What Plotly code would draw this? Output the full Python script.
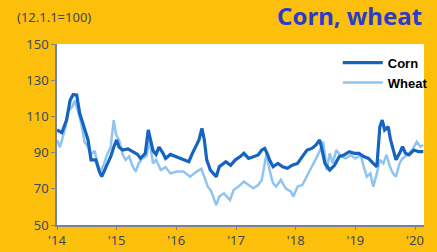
import plotly.graph_objects as go
import pandas as pd

corn_t = [2014.0, 2014.08, 2014.16, 2014.22, 2014.27, 2014.33, 2014.38, 2014.43, 2014.52, 2014.57,
          2014.65, 2014.71, 2014.75, 2014.82, 2014.9, 2014.95, 2015.0, 2015.04, 2015.1, 2015.19,
          2015.24, 2015.3, 2015.35, 2015.4, 2015.48, 2015.53, 2015.57, 2015.61, 2015.66, 2015.71,
          2015.77, 2015.82, 2015.9, 2015.98, 2016.05, 2016.13, 2016.21, 2016.27, 2016.32, 2016.38,
          2016.43, 2016.47, 2016.51, 2016.57, 2016.62, 2016.67, 2016.72, 2016.78, 2016.83, 2016.91,
          2016.99, 2017.07, 2017.13, 2017.21, 2017.29, 2017.37, 2017.43, 2017.48, 2017.53, 2017.56,
          2017.62, 2017.7, 2017.78, 2017.86, 2017.94, 2018.03, 2018.11, 2018.19, 2018.27, 2018.34,
          2018.4, 2018.43, 2018.49, 2018.57, 2018.65, 2018.73, 2018.81, 2018.9, 2018.98, 2019.06,
          2019.14, 2019.22, 2019.3, 2019.36, 2019.41, 2019.45, 2019.49, 2019.55, 2019.59, 2019.63,
          2019.68, 2019.74, 2019.79, 2019.84, 2019.9, 2019.98, 2020.06, 2020.14]
corn_v = [102.5, 101, 108, 119, 122, 121.8, 111.7, 106, 97, 86,
          86, 79.5, 76.7, 82, 87.7, 93, 97, 93, 91.4, 92,
          91, 89.6, 89, 86.8, 89.6, 102.5, 97, 91, 89, 93,
          90, 86.8, 89, 88, 86.8, 86, 85, 89.6, 93, 97,
          103.4, 97, 86, 80.4, 78.5, 76.7, 82.2, 84, 85, 83,
          86, 87.8, 89.6, 86.8, 87.8, 88.7, 91.4, 92.3, 88.7, 86,
          82.2, 84, 82.2, 81.3, 83, 84, 87.8, 91.4, 92.3, 94.2,
          97, 93.3, 84, 80.4, 83, 87.8, 88.7, 90.5, 89.6, 89.6,
          87.8, 86.8, 84, 82.2, 104.3, 108, 102.5, 104.3, 97, 91.4,
          86, 89.6, 93.3, 89.6, 88.7, 91.4, 90.5, 90.5]

wheat_t = [2014.0, 2014.05, 2014.14, 2014.19, 2014.25, 2014.3, 2014.35, 2014.41, 2014.46, 2014.52,
           2014.57, 2014.63, 2014.68, 2014.73, 2014.79, 2014.84, 2014.9, 2014.95, 2014.99, 2015.04,
           2015.1, 2015.15, 2015.21, 2015.26, 2015.32, 2015.37, 2015.43, 2015.5, 2015.55, 2015.61,
           2015.66, 2015.74, 2015.82, 2015.9, 2016.01, 2016.12, 2016.23, 2016.34, 2016.42, 2016.47,
           2016.53, 2016.58, 2016.63, 2016.67, 2016.72, 2016.8, 2016.9, 2016.96, 2017.04, 2017.13,
           2017.21, 2017.29, 2017.37, 2017.43, 2017.48, 2017.51, 2017.56, 2017.62, 2017.67, 2017.75,
           2017.83, 2017.92, 2017.96, 2018.03, 2018.11, 2018.19, 2018.24, 2018.33, 2018.41, 2018.46,
           2018.52, 2018.57, 2018.62, 2018.68, 2018.76, 2018.84, 2018.92, 2019.0, 2019.09, 2019.14,
           2019.19, 2019.25, 2019.3, 2019.36, 2019.41, 2019.47, 2019.52, 2019.58, 2019.63, 2019.68,
           2019.74, 2019.79, 2019.87, 2019.95, 2020.03, 2020.09, 2020.14]
wheat_v = [97, 93, 103.8, 113, 115, 118.8, 113, 105.5, 96, 93,
           89, 91, 84, 79.5, 84, 89, 93, 108, 100, 97,
           89, 86, 88, 83, 79.5, 84, 86.8, 88, 97, 84,
           86, 80.4, 82, 78.5, 79.5, 79.5, 76.7, 79.5, 81, 76.7,
           71, 69, 64, 61, 65.7, 67.5, 63.8, 69.3, 71.2, 74,
           72.1, 70.3, 72.1, 74.9, 84, 89.6, 80.4, 73, 71.2, 74.9,
           70.3, 68.4, 65.7, 71.2, 72.1, 76.7, 80.4, 86, 91.4, 96,
           80.4, 89.6, 84, 91.4, 87.8, 86.8, 88.7, 86.8, 88.7, 82.2,
           76.7, 78.5, 71.2, 78.5, 86, 84, 88.7, 82.2, 78.5, 76.7,
           84, 86.8, 88.7, 91.4, 96, 93.3, 94.2]

y_ticks = [50, 70, 90, 110, 130, 150]


def to_dates(ts):
    out = []
    for t in ts:
        y = int(t)
        out.append(pd.Timestamp(year=y, month=1, day=1) + pd.Timedelta(days=(t - y) * 365.25))
    return out


BG = "#FCBF0C"
CORN = "#1565C0"
WHEAT = "#90C4F0"
TICK = "#44465A"

fig = go.Figure()
fig.add_trace(go.Scatter(x=to_dates(wheat_t), y=wheat_v, mode="lines", name="Wheat",
                         line=dict(color=WHEAT, width=2.5), legendrank=2))
fig.add_trace(go.Scatter(x=to_dates(corn_t), y=corn_v, mode="lines", name="Corn",
                         line=dict(color=CORN, width=3.2), legendrank=1))

fig.update_layout(
    width=437, height=252,
    margin=dict(l=57, r=4, t=44, b=27, pad=0),
    paper_bgcolor=BG, plot_bgcolor="white",
    showlegend=True,
    legend=dict(x=0.765, y=0.98, xanchor="left", yanchor="top", bgcolor="rgba(0,0,0,0)",
                font=dict(family="Liberation Sans", size=13, color="black", weight="bold"),
                tracegroupgap=0, itemwidth=40),
    font=dict(family="Noto Sans", size=12, color=TICK),
)
fig.update_xaxes(
    type="date", automargin=False,
    range=[pd.Timestamp("2014-01-01"), pd.Timestamp("2020-02-25")],
    tickvals=[pd.Timestamp(f"{y}-01-01") for y in range(2014, 2021)],
    ticktext=[f"'{y % 100:02d}" for y in range(2014, 2021)],
    showgrid=False, zeroline=False,
    showline=True, linecolor="#7682A0", linewidth=1.5,
    ticks="outside", ticklen=3, tickcolor="#7682A0",
    tickfont=dict(size=13, color=TICK),
)
fig.update_yaxes(
    range=[50, 150], tickvals=y_ticks, automargin=False,
    showgrid=False, zeroline=False,
    showline=True, linecolor="#7682A0", linewidth=1.5,
    ticks="outside", ticklen=4, tickcolor="#7682A0",
    tickfont=dict(size=13, color=TICK),
)
fig.add_annotation(x=-0.115, y=1.15, xref="paper", yref="paper", xanchor="left", yanchor="middle",
                   text="(12.1.1=100)", showarrow=False,
                   font=dict(family="Noto Sans", size=13, color=TICK))
fig.add_annotation(x=1.0, y=1.155, xref="paper", yref="paper", xanchor="right", yanchor="middle",
                   text="<b>Corn, wheat</b>", showarrow=False,
                   font=dict(family="Noto Sans", size=24, color="#2A3CC8"))
fig.write_html("out.html", config={"displayModeBar": False},
               post_script="document.body.style.margin='0';document.body.style.background='#FCBF0C';")
